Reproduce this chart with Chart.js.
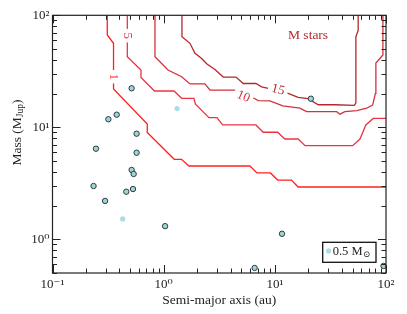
<!DOCTYPE html>
<html>
<head>
<meta charset="utf-8">
<script src="https://cdn.jsdelivr.net/npm/chart.js@4/dist/chart.umd.min.js"></script>
<style>html,body{margin:0;padding:0;background:#fff;}canvas{display:block;}</style>
</head>
<body>
<canvas id="c" width="407" height="314"></canvas>
<script>
// ---- data ----
const darkSemiMajor = [0.515, 0.318, 0.378, 0.571, 0.246, 0.571, 0.515, 0.537, 0.234, 0.461, 0.530, 0.297, 1.03, 11.6, 6.58, 95, 21.1];
const darkMass      = [22.3, 11.8, 12.96, 8.77, 6.44, 5.93, 4.16, 3.83, 2.99, 2.66, 2.81, 2.20, 1.31, 1.12, 0.555, 0.578, 18.0];
const solarSemiMajor = [1.32, 0.428];
const solarMass      = [14.7, 1.52];

const contour1A = [0.311, 0.311, 0.354, 0.354, 0.712, 0.712, 1.245, 1.446, 1.689, 5.97, 6.90, 9.13, 10.6, 14.1, 16.2, 100];
const contour1M = [100, 66.7, 56.2, 22.0, 10.7, 8.99, 5.18, 5.18, 4.51, 4.51, 3.91, 3.91, 3.38, 3.38, 2.93, 2.93];
const contour5A = [0.471, 0.471, 0.625, 0.625, 0.827, 1.238, 1.452, 1.873, 1.932, 2.555, 3.015, 3.394, 6.76, 7.86, 10.6, 12.3, 16.2, 18.7, 50.1, 58.3, 65.9, 76.7, 100];
const contour5M = [100, 42.7, 32.5, 27.8, 21.1, 21.1, 18.15, 18.15, 16.1, 12.2, 12.2, 10.5, 10.5, 9.03, 9.03, 7.86, 7.86, 6.85, 6.85, 7.86, 10.5, 12.0, 12.0];
const contour10A = [0.835, 0.835, 1.093, 1.452, 1.724, 2.351, 2.609, 4.47, 6.49, 7.09, 9.03, 11.8, 16.8, 19.3, 36.0, 38.5, 42.7, 54.7, 66.9, 75.8, 80.3, 81.1, 93.8, 93.8];
const contour10M = [100, 42.7, 32.5, 28.3, 24.4, 24.4, 21.5, 21.5, 18.15, 17.3, 17.2, 15.5, 14.8, 13.8, 13.8, 13.1, 13.8, 14.1, 14.8, 15.8, 20.1, 37.5, 44.2, 100];
const contour15A = [1.461, 1.461, 1.724, 1.912, 2.196, 2.452, 2.893, 3.436, 4.47, 5.20, 6.76, 7.61, 8.72, 13.0, 16.2, 19.9, 24.6, 34.7, 52.0, 53.6, 53.6, 56.2, 56.2];
const contour15M = [100, 64.4, 56.2, 45.8, 41.2, 36.7, 32.8, 28.1, 28.1, 24.6, 24.6, 23.0, 22.3, 20.2, 18.5, 18.0, 15.9, 15.9, 15.7, 16.5, 64.4, 73.2, 100];

const contourLevels = ['1', '5', '10', '15'];
const xTickValues = [0.1, 1, 10, 100];
const xTickLabels = ['10\u207B\u00B9', '10\u2070', '10\u00B9', '10\u00B2'];
const yTickValues = [1, 10, 100];
const yTickLabels = ['10\u2070', '10\u00B9', '10\u00B2'];

// ---- styling / annotation placement ----
const SERIF = "'Liberation Serif', 'DejaVu Serif', serif";
const contourColors = ['#ff1f1f', '#ec3344', '#d2323c', '#b3282c'];
const labelPlaces = [
  {a: 0.357, m: 28.3, rot: 90},
  {a: 0.480, m: 65.8, rot: 90},
  {a: 5.22,  m: 19.0, rot: 23},
  {a: 10.7,  m: 21.8, rot: 14}
];

const zip = (A, M) => A.map((v, i) => ({x: v, y: M[i]}));
const contourData = [zip(contour1A, contour1M), zip(contour5A, contour5M), zip(contour10A, contour10M), zip(contour15A, contour15M)];

const datasets = [
  {label: 'planets', data: zip(darkSemiMajor, darkMass), backgroundColor: '#9fd3d7', borderColor: '#2e3d3e', borderWidth: 1, pointRadius: 2.7, clip: 0},
  {label: '0.5 M\u2299', data: zip(solarSemiMajor, solarMass), backgroundColor: '#a9dee6', borderWidth: 0, pointRadius: 2.6, clip: 0}
];
contourData.forEach((d, i) => datasets.push({
  label: 'contour ' + contourLevels[i], data: d, showLine: true, pointRadius: 0, borderColor: contourColors[i], borderWidth: 1.3, fill: false, tension: 0, clip: 0
}));

function minorTicks(lo, hi) {
  const out = [];
  for (let e = -2; e <= 2; e++) for (let m = 1; m <= 9; m++) {
    const v = m * Math.pow(10, e);
    if (v >= lo * 0.999 && v <= hi * 1.001) out.push({v, major: m === 1});
  }
  return out;
}

const decor = {
  id: 'decor',
  afterDatasetsDraw(chart) {
    const {ctx, chartArea: ca, scales: {x, y}} = chart;
    ctx.save();
    // contour labels
    contourLevels.forEach((t, i) => {
      const p = labelPlaces[i];
      const px = x.getPixelForValue(p.a), py = y.getPixelForValue(p.m);
      ctx.save();
      ctx.translate(px, py);
      ctx.rotate(p.rot * Math.PI / 180);
      ctx.font = '13px ' + SERIF;
      const w = ctx.measureText(t).width;
      ctx.fillStyle = '#fff';
      ctx.fillRect(-w / 2 - 3.5, -4.5, w + 7, 9);
      ctx.fillStyle = contourColors[i];
      ctx.textAlign = 'center'; ctx.textBaseline = 'middle';
      ctx.fillText(t, 0, 0.5);
      ctx.restore();
    });
    // M stars
    ctx.font = '13.5px ' + SERIF;
    ctx.fillStyle = '#b3282c';
    ctx.textAlign = 'center'; ctx.textBaseline = 'middle';
    ctx.fillText('M stars', x.getPixelForValue(19.9), y.getPixelForValue(66.7));
    // frame
    ctx.strokeStyle = '#222'; ctx.lineWidth = 1.2;
    ctx.strokeRect(ca.left, ca.top, ca.right - ca.left, ca.bottom - ca.top);
    // ticks
    ctx.lineWidth = 1;
    ctx.beginPath();
    minorTicks(x.min, x.max).forEach(t => {
      const px = Math.round(x.getPixelForValue(t.v)) + 0.5;
      const L = t.major ? 8 : 4.5;
      ctx.moveTo(px, ca.bottom); ctx.lineTo(px, ca.bottom - L);
      ctx.moveTo(px, ca.top); ctx.lineTo(px, ca.top + L);
    });
    minorTicks(y.min, y.max).forEach(t => {
      const py = Math.round(y.getPixelForValue(t.v)) + 0.5;
      const L = t.major ? 8 : 4.5;
      ctx.moveTo(ca.left, py); ctx.lineTo(ca.left + L, py);
      ctx.moveTo(ca.right, py); ctx.lineTo(ca.right - L, py);
    });
    ctx.stroke();
    // axis titles
    ctx.fillStyle = '#222';
    ctx.font = '13.5px ' + SERIF;
    ctx.textAlign = 'center'; ctx.textBaseline = 'middle';
    ctx.fillText('Semi-major axis (au)', (ca.left + ca.right) / 2, 300.5);
    // y title with subscript
    ctx.save();
    ctx.translate(17, 132.5);
    ctx.rotate(-Math.PI / 2);
    const big = '13.5px ' + SERIF, small = '9.5px ' + SERIF;
    ctx.font = big; const w1 = ctx.measureText('Mass (M').width; const w3 = ctx.measureText(')').width;
    ctx.font = small; const w2 = ctx.measureText('Jup').width;
    let sx = -(w1 + w2 + w3) / 2;
    ctx.textAlign = 'left';
    ctx.font = big; ctx.fillText('Mass (M', sx, 0); sx += w1;
    ctx.font = small; ctx.fillText('Jup', sx, 3); sx += w2;
    ctx.font = big; ctx.fillText(')', sx, 0);
    ctx.restore();
    // legend
    const bx = ca.right - 63.3, by = ca.bottom - 30.7, bw = 53.3, bh = 20;
    ctx.fillStyle = '#fff';
    ctx.fillRect(bx, by, bw, bh);
    ctx.strokeStyle = '#111'; ctx.lineWidth = 1.3;
    ctx.strokeRect(bx, by, bw, bh);
    ctx.fillStyle = '#a9dee6';
    ctx.beginPath(); ctx.arc(bx + 5.8, by + 8.6, 2.6, 0, Math.PI * 2); ctx.fill();
    ctx.fillStyle = '#222';
    ctx.textAlign = 'left';
    ctx.font = '12.5px ' + SERIF;
    const lt = '0.5 M';
    ctx.fillText(lt, bx + 10, by + 9.5);
    const lw = ctx.measureText(lt).width;
    ctx.font = '8.5px ' + SERIF;
    ctx.fillText('\u2299', bx + 10 + lw + 0.5, by + 12.5);
    ctx.restore();
  }
};

new Chart(document.getElementById('c'), {
  type: 'scatter',
  data: {datasets},
  options: {
    responsive: false,
    animation: false,
    events: [],
    layout: {padding: {top: 15.3, right: 21, left: 0, bottom: 0}},
    plugins: {legend: {display: false}, tooltip: {enabled: false}},
    scales: {
      x: {
        type: 'logarithmic', min: 0.1, max: 100,
        grid: {display: false, drawTicks: false}, border: {display: false},
        afterBuildTicks: s => { s.ticks = xTickValues.map(v => ({value: v, major: true})); },
        afterFit: s => { s.height = 41; },
        ticks: {autoSkip: false, maxRotation: 0, padding: 4, color: '#222', font: {family: SERIF, size: 13}, callback: (v, i) => xTickLabels[i]}
      },
      y: {
        type: 'logarithmic', min: 0.5, max: 100,
        grid: {display: false, drawTicks: false}, border: {display: false},
        afterBuildTicks: s => { s.ticks = yTickValues.map(v => ({value: v, major: true})); },
        afterFit: s => { s.width = 52.5; },
        ticks: {autoSkip: false, padding: 3, color: '#222', font: {family: SERIF, size: 13}, callback: (v, i) => yTickLabels[i]}
      }
    }
  },
  plugins: [decor]
});
</script>
</body>
</html>
